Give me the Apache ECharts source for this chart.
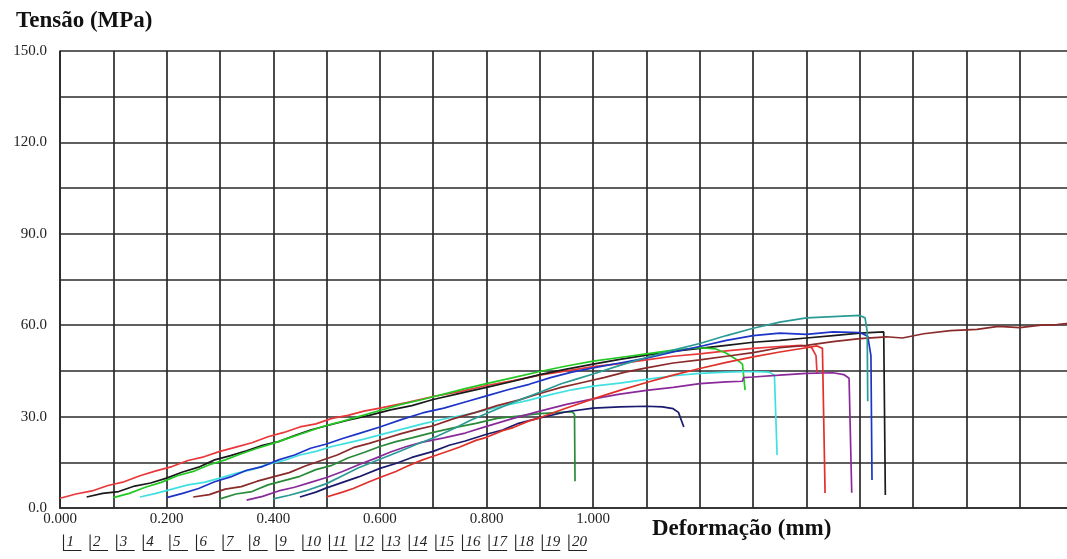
<!DOCTYPE html>
<html>
<head>
<meta charset="utf-8">
<script src="https://cdn.jsdelivr.net/npm/echarts@6/dist/echarts.min.js"></script>
<style>
html,body{margin:0;padding:0;overflow:hidden;background:#fff;width:1067px;height:559px;}
#c{width:1080px;height:559px;}
</style>
</head>
<body>
<div id="c"></div>
<script>
// ---- data (mm, MPa) ----
const yTicks = [0, 30, 60, 90, 120, 150];
const xTicks = [0, 0.2, 0.4, 0.6, 0.8, 1.0];
const legendNames = ['1','2','3','4','5','6','7','8','9','10','11','12','13','14','15','16','17','18','19','20'];
const seriesColors = ['#e8383a','#1a1a1a','#22c922','#40e0e0','#1c34c8','#8b2a2a','#2a8a3a','#8a2a9a','#2a9a94','#1a1a6e','#e0302a'];

const s1 = [[0.00,3.2],[0.03,4.6],[0.06,5.6],[0.09,7.4],[0.12,8.6],[0.15,10.6],[0.18,12.2],[0.21,13.6],[0.24,15.6],[0.27,16.8],[0.30,18.6],[0.33,20.0],[0.36,21.4],[0.39,23.4],[0.42,24.8],[0.45,26.6],[0.48,27.6],[0.51,29.4],[0.54,30.4],[0.57,31.8],[0.60,32.8],[0.65,34.6],[0.70,36.6],[0.75,38.2],[0.80,40.2],[0.85,41.8],[0.90,43.6],[0.95,45.0],[1.00,46.4],[1.05,47.4],[1.10,48.6],[1.15,49.8],[1.20,50.6],[1.25,51.6],[1.30,52.4],[1.35,53.0],[1.39,53.4],[1.41,52.6],[1.418,50.0],[1.420,44.0]];
const s2 = [[0.05,3.6],[0.08,4.8],[0.11,5.4],[0.14,7.2],[0.17,8.2],[0.20,9.8],[0.23,11.8],[0.26,13.4],[0.29,15.8],[0.32,17.2],[0.35,18.8],[0.38,20.6],[0.41,21.8],[0.44,23.8],[0.47,25.6],[0.50,27.0],[0.54,28.8],[0.58,30.4],[0.62,32.2],[0.66,33.6],[0.70,35.6],[0.75,37.6],[0.80,39.6],[0.85,41.6],[0.90,43.8],[0.95,45.6],[1.00,47.2],[1.05,48.8],[1.10,50.2],[1.15,51.4],[1.20,52.4],[1.25,53.4],[1.30,54.4],[1.35,55.0],[1.40,55.8],[1.45,56.6],[1.50,57.4],[1.545,57.8],[1.548,4.3]];
const s3 = [[0.10,3.4],[0.13,4.8],[0.16,6.8],[0.19,8.4],[0.22,10.6],[0.25,12.0],[0.28,14.2],[0.31,15.8],[0.34,17.8],[0.37,19.6],[0.40,21.2],[0.43,23.0],[0.46,24.8],[0.49,26.6],[0.52,28.0],[0.56,30.0],[0.60,32.0],[0.64,34.0],[0.68,35.6],[0.72,37.4],[0.76,39.2],[0.80,40.8],[0.85,42.8],[0.90,44.8],[0.95,46.6],[1.00,48.2],[1.05,49.4],[1.10,50.6],[1.15,51.8],[1.20,52.6],[1.23,52.2],[1.25,50.8],[1.27,48.6],[1.28,47.2],[1.285,38.7]];
const s4 = [[0.15,3.6],[0.18,4.8],[0.21,6.2],[0.24,7.6],[0.27,8.4],[0.30,9.8],[0.33,11.4],[0.36,12.6],[0.39,14.4],[0.42,15.6],[0.45,17.4],[0.48,18.6],[0.51,20.2],[0.54,21.4],[0.57,22.6],[0.60,24.0],[0.64,25.8],[0.68,27.6],[0.72,29.2],[0.76,30.6],[0.80,32.2],[0.84,33.8],[0.88,35.4],[0.92,37.2],[0.96,38.8],[1.00,40.0],[1.05,41.0],[1.10,42.2],[1.15,43.4],[1.20,44.2],[1.25,44.6],[1.30,44.8],[1.33,44.6],[1.34,43.6],[1.345,17.4]];
const s5 = [[0.20,3.4],[0.23,4.8],[0.26,6.4],[0.29,8.6],[0.32,10.2],[0.35,12.4],[0.38,13.6],[0.41,15.8],[0.44,17.4],[0.47,19.6],[0.50,21.0],[0.53,22.8],[0.56,24.4],[0.60,26.6],[0.64,29.0],[0.68,31.2],[0.72,32.8],[0.76,34.8],[0.80,36.8],[0.84,38.8],[0.88,40.6],[0.92,42.8],[0.96,44.6],[1.00,46.0],[1.05,47.6],[1.10,49.2],[1.15,51.2],[1.20,53.0],[1.25,55.0],[1.30,56.6],[1.35,57.4],[1.40,57.0],[1.45,57.8],[1.50,57.6],[1.515,56.4],[1.521,50.0],[1.523,9.2]];
const s6 = [[0.25,3.6],[0.28,4.4],[0.31,6.2],[0.34,7.0],[0.37,8.8],[0.40,10.2],[0.43,11.6],[0.46,13.8],[0.49,15.6],[0.52,17.4],[0.55,19.8],[0.58,21.2],[0.61,22.8],[0.64,24.4],[0.67,25.8],[0.70,27.0],[0.74,29.4],[0.78,31.4],[0.82,33.6],[0.86,35.4],[0.90,37.6],[0.94,39.6],[0.98,41.2],[1.02,42.8],[1.06,44.6],[1.10,46.0],[1.15,47.6],[1.20,48.6],[1.25,49.8],[1.30,51.0],[1.35,52.6],[1.40,53.4],[1.45,54.6],[1.50,55.6],[1.55,56.2],[1.58,55.8],[1.62,57.2],[1.67,58.2],[1.72,58.6],[1.76,59.6],[1.80,59.2],[1.84,60.0],[1.87,60.2],[1.90,60.8]];
const s7 = [[0.30,3.0],[0.33,4.6],[0.36,5.4],[0.39,7.6],[0.42,9.0],[0.45,10.4],[0.48,12.6],[0.51,14.0],[0.54,16.4],[0.57,18.2],[0.60,20.2],[0.63,21.8],[0.66,23.0],[0.70,24.8],[0.74,26.4],[0.78,27.8],[0.82,29.4],[0.86,30.2],[0.90,31.0],[0.94,31.4],[0.96,31.6],[0.965,30.8],[0.966,8.8]];
const s8 = [[0.35,2.6],[0.38,3.8],[0.41,5.6],[0.44,6.8],[0.47,8.4],[0.50,10.0],[0.53,12.0],[0.56,14.2],[0.59,16.2],[0.62,18.4],[0.65,20.2],[0.68,21.6],[0.72,23.0],[0.76,24.6],[0.80,26.8],[0.85,29.4],[0.90,31.8],[0.95,34.0],[1.00,35.8],[1.05,37.4],[1.10,38.6],[1.15,39.6],[1.20,40.8],[1.25,41.4],[1.28,41.6],[1.282,42.8],[1.30,43.0],[1.35,43.6],[1.40,44.2],[1.45,44.4],[1.47,43.8],[1.48,42.6],[1.485,5.0]];
const s9 = [[0.40,3.0],[0.43,4.2],[0.46,5.6],[0.50,8.0],[0.53,10.6],[0.56,13.2],[0.60,16.0],[0.64,18.8],[0.67,21.0],[0.70,23.0],[0.74,26.2],[0.77,28.8],[0.80,31.0],[0.84,34.0],[0.87,36.0],[0.90,38.0],[0.94,40.8],[0.97,42.4],[1.00,44.0],[1.05,46.8],[1.10,49.4],[1.15,51.8],[1.20,54.0],[1.25,56.6],[1.30,59.0],[1.35,61.0],[1.40,62.4],[1.45,62.8],[1.50,63.2],[1.51,62.4],[1.514,58.0],[1.515,35.0]];
const s10 = [[0.45,3.6],[0.48,5.2],[0.50,6.6],[0.53,8.4],[0.56,10.2],[0.60,13.0],[0.63,14.6],[0.66,16.6],[0.70,18.6],[0.73,20.6],[0.76,22.0],[0.80,24.2],[0.83,25.6],[0.86,27.8],[0.90,29.6],[0.95,31.6],[1.00,32.8],[1.05,33.2],[1.10,33.4],[1.13,33.2],[1.15,32.6],[1.16,31.4],[1.17,26.6]];
const s11 = [[0.50,3.6],[0.53,5.2],[0.55,6.4],[0.58,8.6],[0.60,10.0],[0.63,12.0],[0.65,13.6],[0.68,15.8],[0.70,17.0],[0.73,18.8],[0.75,20.0],[0.78,22.2],[0.80,23.2],[0.83,25.4],[0.85,26.4],[0.88,28.6],[0.90,29.6],[0.93,31.6],[0.95,32.8],[1.00,35.8],[1.05,38.6],[1.10,41.2],[1.15,43.6],[1.20,45.8],[1.25,47.8],[1.30,49.6],[1.35,51.2],[1.40,52.6],[1.42,53.2],[1.43,52.4],[1.435,4.9]];

const curves = [s1,s2,s3,s4,s5,s6,s7,s8,s9,s10,s11];

// ---- chart ----
const chart = echarts.init(document.getElementById('c'), null, {renderer:'canvas'});
const serif = '"Liberation Serif","Times New Roman",serif';
const gridColor = '#2a2a2a';

const legendGraphics = legendNames.map((n, i) => ({
  type: 'group',
  left: 61 + i * 26.6,
  top: 532,
  children: [
    {type:'polyline', shape:{points:[[0,0],[0,16],[18,16]]}, style:{stroke:'#222', lineWidth:1.1, fill:null}},
    {type:'text', left: 3, top: 0, style:{text:n, font:'italic 15px ' + serif, fill:'#222'}}
  ]
}));

chart.setOption({
  animation: false,
  backgroundColor: '#fff',
  title: [
    {text:'Tensão (MPa)', left: 11, top: 5, textStyle:{fontFamily:serif, fontWeight:'bold', fontSize:23, color:'#111'}},
    {text:'Deformação (mm)', left: 647, top: 513, textStyle:{fontFamily:serif, fontWeight:'bold', fontSize:23, color:'#111'}}
  ],
  grid: {left: 60, top: 51, width: 1013, height: 457, containLabel:false},
  xAxis: {
    type:'value', min:0, max:1.9, interval:0.1,
    axisLine:{show:true, lineStyle:{color:gridColor, width:1.7}},
    axisTick:{show:false},
    splitLine:{show:true, lineStyle:{color:gridColor, width:1.7}},
    axisLabel:{
      margin: 4,
      fontFamily: serif, fontSize: 15, color:'#222',
      formatter: v => {
        const k = Math.round(v*10);
        return (k % 2 === 0 && k <= 10 && xTicks.some(t => Math.abs(t - v) < 1e-6)) ? v.toFixed(3) : '';
      }
    }
  },
  yAxis: {
    type:'value', min:0, max:150, interval:15,
    axisLine:{show:true, lineStyle:{color:gridColor, width:1.7}},
    axisTick:{show:false},
    splitLine:{show:true, lineStyle:{color:gridColor, width:1.7}},
    axisLabel:{
      margin: 13,
      fontFamily: serif, fontSize: 15, color:'#222',
      formatter: v => yTicks.includes(Math.round(v)) && Math.abs(v - Math.round(v)) < 1e-6 ? v.toFixed(1) : ''
    }
  },
  graphic: legendGraphics,
  series: curves.map((d, i) => ({
    name: legendNames[i],
    type: 'line',
    data: d,
    showSymbol: false,
    symbol: 'none',
    lineStyle: {color: seriesColors[i], width: 1.7},
    z: 3 + i
  }))
});
</script>
</body>
</html>
